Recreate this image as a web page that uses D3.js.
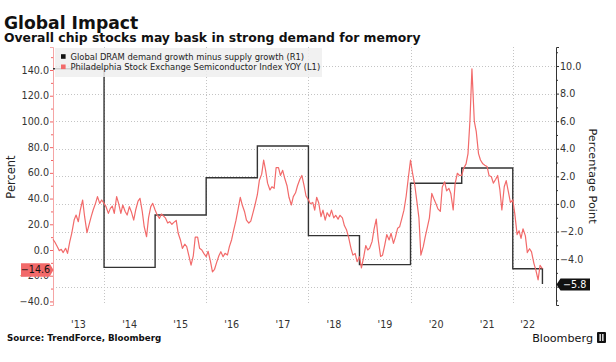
<!DOCTYPE html>
<html>
<head>
<meta charset="utf-8">
<script src="https://cdn.jsdelivr.net/npm/d3@7"></script>
<style>
  body { margin: 0; background: #fff; }
  #chart { width: 616px; height: 362px; }
  text { font-family: "DejaVu Sans", sans-serif; }
</style>
</head>
<body>
<div id="chart"></div>
<script>
// x axis: one label per calendar year, gridline every other year
const yearLabels = ["'13", "'14", "'15", "'16", "'17", "'18", "'19", "'20", "'21", "'22"];
const labelYears = [2013, 2014, 2015, 2016, 2017, 2018, 2019, 2020, 2021, 2022];
const gridYears = [2014, 2016, 2018, 2020, 2022];

// R1: global DRAM demand growth minus supply growth, one value per year (pct point)
const dramYears = [2013, 2014, 2015, 2016, 2017, 2018, 2019, 2020, 2021, 2022];
const dramGap = [9.8, -4.6, -0.8, 1.9, 4.2, -2.3, -4.4, 1.5, 2.6, -4.7];
const dramLastDate = "2022-08-01";
const dramLastValue = -5.8;

// L1: Philadelphia Semiconductor Index YoY %, read twice a month (1st and 15th)
const sox2013 = [8.3, 6, 2.5, -0.5, 0.5, -2, 1.3, -2.6, 6.5, 13, 23.3, 27.2, 22, 31, 38.9, 25.9, 13.5, 19.4, 25.9, 31.1, 36.3, 41.5, 36.3, 38.9];
const sox2014 = [36.3, 33.7, 28.5, 32.4, 34.2, 28.5, 41.5, 36.3, 28.5, 35, 30, 27.2, 33.7, 29.8, 23.3, 31.1, 38, 40.2, 30, 18.1, 10.3, 25, 33.7, 36.3];
const sox2015 = [31.1, 27.5, 24.6, 28, 26.5, 25, 21, 22, 20, 21.5, 23, 13, 7.8, 1.3, 4.5, 2.6, -5.2, -11.7, -4.5, 10, 10, 1.3, 0, -2.6];
const sox2016 = [-5.2, -1, -9, -17, -15, -10, -4.5, -1.3, -5.2, -2.6, -3.9, 2.6, 8, 15, 23, 31, 41, 35, 30, 23.3, 21, 22.5, 29, 35];
const sox2017 = [43, 54, 59, 70, 62, 52, 46.7, 49.2, 48, 64, 64, 58, 62, 56, 50, 41, 35, 41.5, 44.5, 50, 55, 58, 50, 42];
const sox2018 = [39, 36, 37, 31, 41, 37, 26, 31, 23.3, 29, 26, 31, 25, 27, 24, 27, 25, 19, 15.5, 10, 1.5, -4, -2.6, -9.1];
const sox2019 = [-5.2, -14, -5, 3.5, 0, 1.5, 6.5, 16, 24, 8, -5, -4, 4, 12, 7.8, 13, 5.2, 10, 17, 18, 25, 31, 42, 55];
const sox2020 = [70, 60, 50, 38, 25, -4, 2.6, 10.3, 18, 25, 44, 40, 36, 32, 30, 49, 53, 46, 48, 44, 31.1, 51.9, 59.7, 58];
const sox2021 = [58, 63.5, 67, 75, 101, 141, 100, 92, 75, 70, 67, 66, 65, 58, 57, 52, 55, 58, 46.7, 31.1, 49.2, 54, 45, 37];
const sox2022 = [39, 28.5, 12, 15, 9, 16.5, 11, -2, 1, -1.5, -10.4, -15.6, -23.3, -12, -14.6];
const soxYears = [2013, 2014, 2015, 2016, 2017, 2018, 2019, 2020, 2021, 2022];

const leftTicks = [-40, -20, 0, 20, 40, 60, 80, 100, 120, 140];
const leftMinor = [-30, -10, 10, 30, 50, 70, 90, 110, 130, 150];
const rightTicks = [-6, -4, -2, 0, 2, 4, 6, 8, 10];
const rightMinor = [-7, -5, -3, -1, 1, 3, 5, 7, 9, 11];

class DualAxisChart {
    constructor(id) {
        this.div = id;
        const soxByYear = [sox2013, sox2014, sox2015, sox2016, sox2017, sox2018, sox2019, sox2020, sox2021, sox2022];
        this.sox = soxByYear.flatMap((vals, i) => vals.map((v, k) => ({
            date: new Date(Date.UTC(soxYears[i], Math.floor(k / 2), k % 2 ? 15 : 1)),
            value: v
        })));
        this.dram = dramYears.map((y, i) => ({ date: new Date(Date.UTC(y, 0, 1)), value: dramGap[i] }));
        this.dram.push({ date: new Date(dramLastDate), value: dramLastValue });
    }

    add_svg() {
        const div = d3.select(`#${this.div}`);
        div.selectAll("*").remove();
        this.width = 616;
        this.height = 362;
        this.margin = { left: 53, right: 60, top: 47, bottom: 57 };
        this.innerW = this.width - this.margin.left - this.margin.right;
        this.innerH = this.height - this.margin.top - this.margin.bottom;
        this.svg = div.append("svg")
            .attr("width", this.width)
            .attr("height", this.height);
        this.ChartArea = this.svg.append("g")
            .attr("transform", `translate(${this.margin.left},${this.margin.top})`);
    }

    add_scale() {
        this.x = d3.scaleUtc()
            .domain([new Date(Date.UTC(2013, 0, 1)), new Date(Date.UTC(2022, 10, 6))])
            .range([0, this.innerW]);
        this.yL = d3.scaleLinear().domain([-42.78, 157.9]).range([this.innerH, 0]);
        this.yR = d3.scaleLinear().domain([-7.33, 11.38]).range([this.innerH, 0]);
    }

    add_grid() {
        const grid = this.ChartArea.append("g")
            .attr("stroke", "#c4c4c4")
            .attr("stroke-dasharray", "1,2")
            .attr("stroke-width", 1);
        grid.selectAll(".hgrid").data(rightTicks).join("line").attr("class", "hgrid")
            .attr("x1", 0).attr("x2", this.innerW)
            .attr("y1", d => Math.round(this.yR(d)) + 0.5)
            .attr("y2", d => Math.round(this.yR(d)) + 0.5);
        grid.selectAll(".vgrid").data(gridYears).join("line").attr("class", "vgrid")
            .attr("x1", d => Math.round(this.x(new Date(Date.UTC(d, 0, 1)))) + 0.5)
            .attr("x2", d => Math.round(this.x(new Date(Date.UTC(d, 0, 1)))) + 0.5)
            .attr("y1", 0).attr("y2", this.innerH);
    }

    add_axis() {
        const fmt = d3.format(".1f");
        // left (L1), red
        this.AxisL = this.ChartArea.append("g")
            .call(d3.axisLeft(this.yL).tickValues(leftTicks).tickSize(3).tickPadding(1).tickFormat(fmt));
        this.AxisL.select(".domain").attr("stroke", "#f5a5a5");
        this.AxisL.selectAll(".tick line").attr("stroke", "#f06565");
        this.AxisL.selectAll(".tick text").attr("fill", "#333").attr("font-size", 9.6)
            .attr("font-family", "DejaVu Sans");
        this.ChartArea.append("g")
            .call(d3.axisLeft(this.yL).tickValues(leftMinor.filter(v => this.yL(v) >= 0)).tickSize(2).tickFormat(""))
            .call(g => g.select(".domain").remove())
            .selectAll(".tick line").attr("stroke", "#f06565");

        // right (R1), dark; the -6.0 label sits under the last-value tag
        const lastR = dramLastValue;
        this.AxisR = this.ChartArea.append("g")
            .attr("transform", `translate(${this.innerW},0)`)
            .call(d3.axisRight(this.yR).tickValues(rightTicks).tickSize(3).tickPadding(1)
                .tickFormat(d => Math.abs(d - lastR) < 1 ? "" : fmt(d)));
        this.AxisR.select(".domain").attr("stroke", "#333");
        this.AxisR.selectAll(".tick line").attr("stroke", "#333");
        this.AxisR.selectAll(".tick text").attr("fill", "#333").attr("font-size", 9.6)
            .attr("font-family", "DejaVu Sans");
        this.ChartArea.append("g")
            .attr("transform", `translate(${this.innerW},0)`)
            .call(d3.axisRight(this.yR).tickValues(rightMinor).tickSize(2).tickFormat(""))
            .call(g => g.select(".domain").remove())
            .selectAll(".tick line").attr("stroke", "#333");

        // year labels centred on each year (last one on the part with data)
        const lastDate = this.sox[this.sox.length - 1].date;
        const mid = y => {
            const a = this.x(new Date(Date.UTC(y, 0, 1)));
            const b = this.x(d3.min([new Date(Date.UTC(y + 1, 0, 1)), lastDate]));
            return (a + b) / 2;
        };
        this.ChartArea.selectAll(".x_label").data(labelYears).join("text").attr("class", "x_label")
            .attr("x", d => mid(d))
            .attr("y", this.innerH + 23)
            .attr("text-anchor", "middle")
            .attr("font-size", 9.6)
            .attr("fill", "#333")
            .text((d, i) => yearLabels[i]);
    }

    add_label() {
        this.svg.append("text")
            .attr("transform", `translate(15,177) rotate(-90)`)
            .attr("text-anchor", "middle")
            .attr("font-size", 11.5)
            .attr("fill", "#222")
            .text("Percent");
        this.svg.append("text")
            .attr("transform", `translate(589,176) rotate(90)`)
            .attr("text-anchor", "middle")
            .attr("font-size", 11.3)
            .attr("fill", "#222")
            .text("Percentage Point");

        this.svg.append("text")
            .attr("x", 4).attr("y", 28.5)
            .attr("font-size", 17.2)
            .attr("font-weight", "bold")
            .attr("fill", "#111")
            .text("Global Impact");
        this.svg.append("text")
            .attr("x", 4).attr("y", 41.8)
            .attr("font-size", 12.4)
            .attr("font-weight", "bold")
            .attr("fill", "#111")
            .text("Overall chip stocks may bask in strong demand for memory");
        this.svg.append("text")
            .attr("x", 7).attr("y", 341)
            .attr("font-size", 8.7)
            .attr("font-weight", "bold")
            .attr("fill", "#111")
            .text("Source: TrendForce, Bloomberg");
        this.svg.append("text")
            .attr("x", 593).attr("y", 342)
            .attr("text-anchor", "end")
            .attr("font-size", 11.2)
            .attr("fill", "#111")
            .text("Bloomberg");
        const logo = this.svg.append("g").attr("transform", "translate(597,332)");
        logo.append("rect").attr("width", 9).attr("height", 11).attr("rx", 1).attr("fill", "#111");
        logo.append("rect").attr("x", 2.5).attr("y", 2).attr("width", 1.3).attr("height", 7).attr("fill", "#fff");
        logo.append("rect").attr("x", 5.2).attr("y", 2).attr("width", 1.3).attr("height", 7).attr("fill", "#fff");
    }

    draw_chart() {
        this.draw_area = this.ChartArea.append("g");
        const stepLine = d3.line()
            .x(d => this.x(d.date))
            .y(d => this.yR(d.value))
            .curve(d3.curveStepAfter);
        const soxLine = d3.line()
            .x(d => this.x(d.date))
            .y(d => this.yL(d.value));
        this.draw_area.append("path")
            .datum(this.dram)
            .attr("fill", "none")
            .attr("stroke", "#333")
            .attr("stroke-width", 1.4)
            .attr("d", stepLine);
        this.draw_area.append("path")
            .datum(this.sox)
            .attr("fill", "none")
            .attr("stroke", "#f26a6a")
            .attr("stroke-width", 1.2)
            .attr("stroke-linejoin", "round")
            .attr("d", soxLine);
    }

    add_end_tags() {
        // last value of the red series on the left axis
        const lastL = this.sox[this.sox.length - 1];
        const cy = this.yL(lastL.value) + 1.2;
        const tagL = this.ChartArea.append("g").attr("transform", `translate(0,${cy})`);
        tagL.append("path")
            .attr("d", "M-32,-6.7H-3.5L0.5,0L-3.5,6.7H-32Z")
            .attr("fill", "#f26a6a");
        tagL.append("text")
            .attr("x", -17.5).attr("y", 3.4)
            .attr("text-anchor", "middle")
            .attr("font-size", 9.6)
            .attr("fill", "#111")
            .text(d3.format(".1f")(lastL.value));

        // last value of the step series on the right axis
        const lastR = this.dram[this.dram.length - 1];
        const cyR = this.yR(lastR.value) + 0.6;
        const tagR = this.ChartArea.append("g").attr("transform", `translate(${this.innerW},${cyR})`);
        tagR.append("path")
            .attr("d", "M0.5,0L4.5,-6H34V6H4.5Z")
            .attr("fill", "#111");
        tagR.append("text")
            .attr("x", 7).attr("y", 3.4)
            .attr("font-size", 9.6)
            .attr("fill", "#fff")
            .text(d3.format(".1f")(lastR.value));
    }

    add_legend() {
        this.legend = this.ChartArea.append("g").attr("class", "legend")
            .attr("transform", "translate(2,1)");
        this.legend.append("rect")
            .attr("width", 267).attr("height", 29)
            .attr("fill", "#eeeeee")
            .attr("fill-opacity", 0.85);
        const items = [
            { label: "Global DRAM demand growth minus supply growth (R1)", color: "#111" },
            { label: "Philadelphia Stock Exchange Semiconductor Index YOY (L1)", color: "#f26a6a" }
        ];
        const row = this.legend.selectAll(".item").data(items).join("g").attr("class", "item")
            .attr("transform", (d, i) => `translate(6,${8.5 + i * 10.3})`);
        row.append("rect")
            .attr("x", 0).attr("y", -2.3)
            .attr("width", 4.6).attr("height", 4.6)
            .attr("fill", d => d.color);
        row.append("text")
            .attr("x", 9.5).attr("y", 3)
            .attr("font-size", 8.4)
            .attr("fill", "#222")
            .text(d => d.label);
    }

    update_chart() {
        this.add_svg();
        this.add_scale();
        this.add_grid();
        this.add_axis();
        this.draw_chart();
        this.add_legend();
        this.add_end_tags();
        this.add_label();
    }
}

new DualAxisChart("chart").update_chart();
</script>
</body>
</html>
